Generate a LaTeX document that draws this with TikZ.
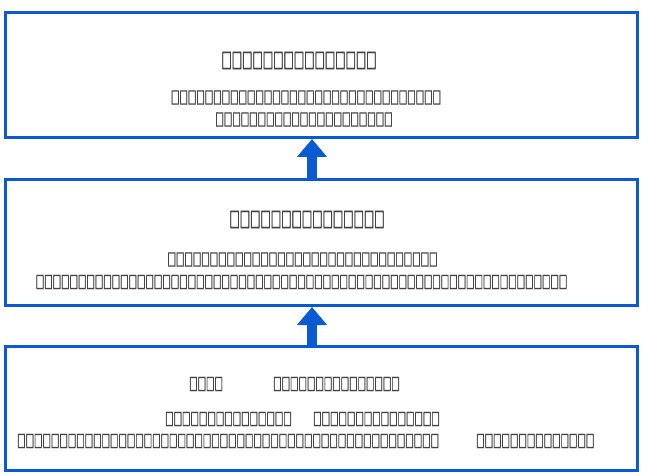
\documentclass[tikz,border=0pt]{standalone}
\usepackage{fontspec}
\newfontfamily\tofu[FakeStretch=0.48,FakeBold=1.2]{DejaVu Sans}
\usetikzlibrary{arrows.meta}
\definecolor{bblue}{HTML}{0A5AD2}
\definecolor{tgray}{HTML}{444444}
\begin{document}
\begin{tikzpicture}[x=1pt,y=-1pt,
  box/.style={draw=bblue,line width=3pt,minimum width=632pt,inner sep=0pt},
  ttl/.style={font=\tofu\fontsize{22.8}{22.8}\selectfont,text=tgray,inner sep=0pt},
  body/.style={font=\tofu\fontsize{18.6}{18.6}\selectfont,text=tgray,inner sep=0pt},
  bigarrow/.style={draw=bblue,line width=10pt,-{Triangle[width=29pt,length=18pt]}}]
\useasboundingbox (0,0) rectangle (648,476);
% boxes
\node[box,minimum height=125pt] (b1) at (321.5,75) {};
\node[box,minimum height=126pt] (b2) at (321.5,242.5) {};
\node[box,minimum height=124.5pt] (b3) at (321.5,408.25) {};
\coordinate (ax) at (312,0);
% arrows
\draw[bigarrow] (b2.north -| ax) -- (b1.south -| ax);
\draw[bigarrow] (b3.north -| ax) -- (b2.south -| ax);
% box 1 text
\node[ttl] (t1) at (299,60.5) {□□□□□□□□□□□□□□□};
\node[body] (l11) at (306,97.5) {□□□□□□□□□□□□□□□□□□□□□□□□□□□□□□□□};
\node[body] (l12) at (304,119.5) {□□□□□□□□□□□□□□□□□□□□□};
% box 2 text
\node[ttl] (t2) at (307,219.5) {□□□□□□□□□□□□□□□};
\node[body] (l21) at (302.5,259.5) {□□□□□□□□□□□□□□□□□□□□□□□□□□□□□□□□};
\node[body] (l22) at (301.5,282) {□□□□□□□□□□□□□□□□□□□□□□□□□□□□□□□□□□□□□□□□□□□□□□□□□□□□□□□□□□□□□□□};
% box 3 text
\node[body,anchor=west] (l31a) at (189,384) {□□□□};
\node[body,anchor=west] (l31b) at (273,384) {□□□□□□□□□□□□□□□};
\node[body,anchor=west] (l32a) at (165,419) {□□□□□□□□□□□□□□□};
\node[body,anchor=west] (l32b) at (313,419) {□□□□□□□□□□□□□□□};
\node[body,anchor=west] (l33a) at (17,441) {□□□□□□□□□□□□□□□□□□□□□□□□□□□□□□□□□□□□□□□□□□□□□□□□□□};
\node[body,anchor=west] (l33b) at (476,441) {□□□□□□□□□□□□□□};
\end{tikzpicture}
\end{document}
